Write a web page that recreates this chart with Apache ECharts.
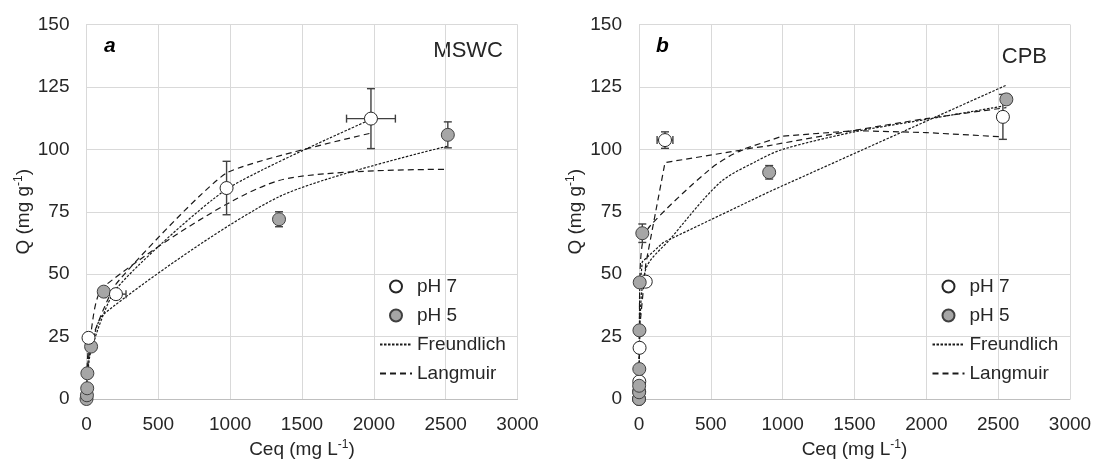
<!DOCTYPE html>
<html>
<head>
<meta charset="utf-8">
<script src="https://cdn.jsdelivr.net/npm/echarts@6/dist/echarts.min.js"></script>
<style>
  html, body { margin: 0; padding: 0; background: #fff; }
  #chart { width: 1097px; height: 461px; }
</style>
</head>
<body>
<div id="chart"></div>
<script>
// axis ticks
const xTicks = [0, 500, 1000, 1500, 2000, 2500, 3000]
const yTicks = [0, 25, 50, 75, 100, 125, 150]

// panel a - MSWC  [Ceq, Q]
const mswcPH7 = [[14, 24.5], [205, 42], [975, 84.5], [1980, 112.3]]
const mswcPH5 = [[0, 0], [3, 1.5], [5, 4.3], [6, 10.3], [32, 21], [120, 43], [1340, 72], [2515, 105.8]]
// [Ceq, Q, err Ceq, err Q]
const mswcErr7 = [[205, 42, 70, 0], [975, 84.5, 0, 10.7], [1980, 112.3, 170, 12]]
const mswcErr5 = [[1340, 72, 0, 3], [2515, 105.8, 0, 5.2]]
const mswcFreund7 = [[0, 0], [14, 16], [205, 44], [975, 84], [1980, 112]]
const mswcLang7 = [[0, 0], [14, 20], [205, 46], [975, 90.5], [1980, 106.5]]
const mswcFreund5 = [[0, 0], [5, 8], [32, 20], [120, 34], [1340, 81], [2515, 101.3]]
const mswcLang5 = [[0, 0], [5, 6], [32, 27], [120, 45], [1340, 87.5], [2515, 92]]

// panel b - CPB
const cpbPH7 = [[0, 0], [1, 3], [2, 7], [4, 20.5], [47, 47], [181, 103.7], [2533, 113]]
const cpbPH5 = [[0, 0], [1, 2.7], [1, 5.3], [2, 12], [3, 27.5], [5, 46.7], [23, 66.4], [906, 90.8], [2557, 120]]
const cpbErr7 = [[181, 103.7, 55, 3.3], [2533, 113, 35, 9]]
const cpbErr5 = [[23, 66.4, 0, 3.7], [906, 90.8, 0, 2.7], [2557, 120, 0, 2]]
const cpbFreund7 = [[0, 0], [4, 22], [47, 52], [216, 64], [564, 86.7], [819, 95.3], [1000, 100], [1500, 107], [2000, 112], [2533, 117.3]]
const cpbLang7 = [[0, 0], [4, 28], [47, 54], [181, 94.7], [700, 99.6], [1000, 105.3], [1500, 107.5], [2000, 106.7], [2533, 105]]
const cpbFreund5 = [[0, 0], [3, 30], [5, 44], [23, 55], [169, 62.7], [906, 83], [2557, 125.7]]
const cpbLang5 = [[0, 0], [2, 15], [3, 28], [5, 45], [23, 62], [77, 69.3], [494, 92], [703, 99.3], [906, 101.5], [1500, 107.6], [2000, 112.3], [2557, 116.7]]

const FONT = "'Liberation Sans', Arial, sans-serif"
const TXT = '#262626'
const GRID = '#d9d9d9'

const chart = echarts.init(document.getElementById('chart'))

const errRender = (params, api) => {
  const x = api.value(0)
  const y = api.value(1)
  const ex = api.value(2)
  const ey = api.value(3)
  const style = { stroke: '#404040', lineWidth: 1.4 }
  const cap = 4
  const children = []
  if (ey > 0) {
    const a = api.coord([x, y + ey])
    const b = api.coord([x, y - ey])
    children.push({ type: 'line', shape: { x1: a[0], y1: a[1], x2: b[0], y2: b[1] }, style })
    children.push({ type: 'line', shape: { x1: a[0] - cap, y1: a[1], x2: a[0] + cap, y2: a[1] }, style })
    children.push({ type: 'line', shape: { x1: b[0] - cap, y1: b[1], x2: b[0] + cap, y2: b[1] }, style })
  }
  if (ex > 0) {
    const a = api.coord([x - ex, y])
    const b = api.coord([x + ex, y])
    children.push({ type: 'line', shape: { x1: a[0], y1: a[1], x2: b[0], y2: b[1] }, style })
    children.push({ type: 'line', shape: { x1: a[0], y1: a[1] - cap, x2: a[0], y2: a[1] + cap }, style })
    children.push({ type: 'line', shape: { x1: b[0], y1: b[1] - cap, x2: b[0], y2: b[1] + cap }, style })
  }
  return { type: 'group', children }
}

const nameRich = {
  n: { fontSize: 19, fontFamily: FONT, color: TXT, lineHeight: 22 },
  s: { fontSize: 12, fontFamily: FONT, color: TXT, verticalAlign: 'top', lineHeight: 12 }
}

const xAxisFor = (gridIndex) => ({
  gridIndex,
  type: 'value',
  min: xTicks[0],
  max: xTicks[xTicks.length - 1],
  interval: xTicks[1] - xTicks[0],
  axisLine: { show: true, lineStyle: { color: '#bfbfbf' } },
  axisTick: { show: false },
  splitLine: { show: true, lineStyle: { color: GRID } },
  axisLabel: { color: TXT, fontSize: 19, fontFamily: FONT, margin: 16, formatter: v => String(v) },
  name: '{n|Ceq (mg L}{s|-1}{n|)}',
  nameLocation: 'middle',
  nameGap: 39,
  nameTextStyle: { rich: nameRich }
})

const yAxisFor = (gridIndex) => ({
  gridIndex,
  type: 'value',
  min: yTicks[0],
  max: yTicks[yTicks.length - 1],
  interval: yTicks[1] - yTicks[0],
  axisLine: { show: true, lineStyle: { color: GRID } },
  axisTick: { show: false },
  splitLine: { show: true, lineStyle: { color: GRID } },
  axisLabel: { color: TXT, fontSize: 19, fontFamily: FONT, margin: 17, formatter: v => String(v) },
  name: '{n|Q (mg g}{s|-1}{n|)}',
  nameLocation: 'middle',
  nameGap: 52,
  nameTextStyle: { rich: nameRich }
})

const fitLine = (name, data, idx, dash, smooth) => ({
  name,
  type: 'line',
  xAxisIndex: idx,
  yAxisIndex: idx,
  data,
  smooth,
  symbol: 'none',
  z: 2,
  lineStyle: { color: '#1a1a1a', width: 1.2, type: dash },
  // legend draws a dot for line series; keep it invisible
  itemStyle: { color: 'rgba(0,0,0,0)', borderWidth: 0 },
  silent: true
})

const points = (name, data, idx, fill, border) => ({
  name,
  type: 'scatter',
  xAxisIndex: idx,
  yAxisIndex: idx,
  data,
  symbol: 'circle',
  symbolSize: 13,
  z: 4,
  itemStyle: { color: fill, borderColor: border, borderWidth: 1, opacity: 1 }
})

const errors = (data, idx) => ({
  type: 'custom',
  xAxisIndex: idx,
  yAxisIndex: idx,
  data,
  renderItem: errRender,
  encode: { x: 0, y: 1 },
  z: 3,
  silent: true
})

const FREUND_DASH = [2.5, 1.5]
const LANG_DASH = [6, 4]

const legendFor = (left) => ({
  data: ['pH 7', 'pH 5', 'Freundlich', 'Langmuir'],
  orient: 'vertical',
  left,
  top: 276,
  padding: 0,
  itemWidth: 32,
  itemHeight: 12,
  itemGap: 8,
  selectedMode: false,
  textStyle: { color: TXT, fontSize: 19, fontFamily: FONT, lineHeight: 21 }
})

const option = {
  animation: false,
  backgroundColor: '#fff',
  grid: [
    { left: 86.5, right: 579.5, top: 24.5, bottom: 62, outerBoundsMode: 'none' },
    { left: 639, right: 27, top: 24.5, bottom: 62, outerBoundsMode: 'none' }
  ],
  xAxis: [xAxisFor(0), xAxisFor(1)],
  yAxis: [yAxisFor(0), yAxisFor(1)],
  legend: [legendFor(379), legendFor(931.5)],
  graphic: [
    { type: 'text', left: 104, top: 36, style: { text: 'a', font: `italic bold 21px ${FONT}`, fill: '#000' } },
    { type: 'text', left: 656, top: 36, style: { text: 'b', font: `italic bold 21px ${FONT}`, fill: '#000' } },
    { type: 'text', right: 1097 - 503, top: 40, style: { text: 'MSWC', font: `22px ${FONT}`, fill: TXT } },
    { type: 'text', right: 1097 - 1047, top: 46, style: { text: 'CPB', font: `22px ${FONT}`, fill: TXT } }
  ],
  series: [
    fitLine('Freundlich', mswcFreund7, 0, FREUND_DASH, 0.2),
    fitLine('Langmuir', mswcLang7, 0, LANG_DASH, 0.15),
    fitLine('Freundlich', mswcFreund5, 0, FREUND_DASH, 0.25),
    fitLine('Langmuir', mswcLang5, 0, LANG_DASH, 0.25),
    errors(mswcErr5, 0),
    errors(mswcErr7, 0),
    points('pH 5', mswcPH5, 0, '#a6a6a6', '#404040'),
    points('pH 7', mswcPH7, 0, '#ffffff', '#262626'),

    fitLine('Freundlich', cpbFreund7, 1, FREUND_DASH, 0.3),
    fitLine('Langmuir', cpbLang7, 1, LANG_DASH, false),
    fitLine('Freundlich', cpbFreund5, 1, FREUND_DASH, false),
    fitLine('Langmuir', cpbLang5, 1, LANG_DASH, 0.3),
    errors(cpbErr7, 1),
    errors(cpbErr5, 1),
    points('pH 7', cpbPH7, 1, '#ffffff', '#262626'),
    points('pH 5', cpbPH5, 1, '#a6a6a6', '#404040')
  ]
}

chart.setOption(option)
</script>
</body>
</html>
